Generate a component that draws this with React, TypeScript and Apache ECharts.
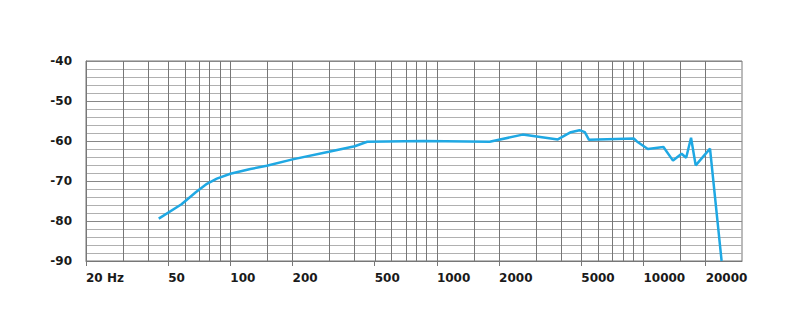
import React, { useEffect, useRef } from "react";
import * as echarts from "echarts";

// Frequency response (Hz, dB)
const freqs = [45, 58, 68, 77, 86, 100, 125, 150, 200, 300, 400, 460, 860, 1800, 2600, 3850, 4450, 4900, 5200, 5450, 9000, 9300, 10500, 12500, 13900, 15300, 16100, 17000, 17900, 21000, 23900];
const levels = [-79.4, -75.8, -72.8, -70.7, -69.4, -68.2, -67.0, -66.2, -64.6, -62.7, -61.3, -60.2, -60.0, -60.2, -58.4, -59.6, -57.8, -57.3, -57.8, -59.7, -59.4, -60.1, -62.0, -61.5, -64.9, -63.2, -64.2, -59.2, -66.1, -61.9, -90];

// Axis ticks
const gridFreqs = [30, 40, 50, 60, 70, 80, 90, 100, 150, 200, 300, 400, 500, 600, 700, 800, 900, 1000, 1500, 2000, 3000, 4000, 5000, 6000, 7000, 8000, 9000, 10000, 15000, 20000];
const labelFreqs = [20, 50, 100, 200, 500, 1000, 2000, 5000, 10000, 20000];
const labelTexts = ["20 Hz", "50", "100", "200", "500", "1000", "2000", "5000", "10000", "20000"];
const xMinFreq = 20;
const xMaxFreq = 30000;
const yMin = -90;
const yMax = -40;

const lg = (f: number) => Math.log10(f);

export default function App() {
  const ref = useRef<HTMLDivElement>(null);
  useEffect(() => {
    if (!ref.current) return;
    const chart = echarts.init(ref.current, null, { renderer: "svg" });
    const labelVals = labelFreqs.map(lg);
    chart.setOption({
      animation: false,
      backgroundColor: "#ffffff",
      grid: {
        left: 86,
        top: 61,
        width: 656,
        height: 200,
        show: true,
        borderColor: "#777",
        borderWidth: 1,
        backgroundColor: "transparent",
      },
      xAxis: {
        type: "value",
        min: lg(xMinFreq),
        max: lg(xMaxFreq),
        splitLine: { show: false },
        axisLine: { show: true, lineStyle: { color: "#777", width: 1 } },
        axisTick: {
          show: true,
          customValues: labelVals,
          length: 5,
          lineStyle: { color: "#777" },
        },
        axisLabel: {
          customValues: labelVals,
          align: "left",
          margin: 11,
          color: "#1a1a1a",
          fontFamily: "DejaVu Sans",
          fontWeight: "bold",
          fontSize: 12,
          formatter: (v: number) => {
            let best = 0;
            let bd = Infinity;
            labelVals.forEach((lv, i) => {
              const d = Math.abs(lv - v);
              if (d < bd) {
                bd = d;
                best = i;
              }
            });
            return labelTexts[best];
          },
        },
      },
      yAxis: {
        type: "value",
        min: yMin,
        max: yMax,
        interval: 10,
        axisLine: { show: true, lineStyle: { color: "#777" } },
        axisTick: { show: false },
        axisLabel: {
          margin: 14,
          color: "#1a1a1a",
          fontFamily: "DejaVu Sans",
          fontWeight: "bold",
          fontSize: 12,
        },
        splitLine: { show: true, lineStyle: { color: "#888", width: 1 } },
        minorTick: { show: false, splitNumber: 5 },
        minorSplitLine: { show: true, lineStyle: { color: "#b0b0b0", width: 1 } },
      },
      series: [
        {
          type: "line",
          data: [],
          z: 1,
          silent: true,
          markLine: {
            silent: true,
            symbol: ["none", "none"],
            label: { show: false },
            emphasis: { disabled: true },
            lineStyle: { type: "solid", color: "#777", width: 1 },
            data: gridFreqs.map((f) => ({ xAxis: lg(f) })),
          },
        },
        {
          type: "line",
          z: 5,
          data: freqs.map((f, i) => [lg(f), levels[i]]),
          showSymbol: false,
          symbol: "none",
          lineStyle: { color: "#1fa8e3", width: 2.5 },
          itemStyle: { color: "#1fa8e3" },
        },
      ],
    });
    return () => chart.dispose();
  }, []);
  return (
    <div
      ref={ref}
      style={{ position: "fixed", left: 0, top: 0, width: 798, height: 335, background: "#fff" }}
    />
  );
}
